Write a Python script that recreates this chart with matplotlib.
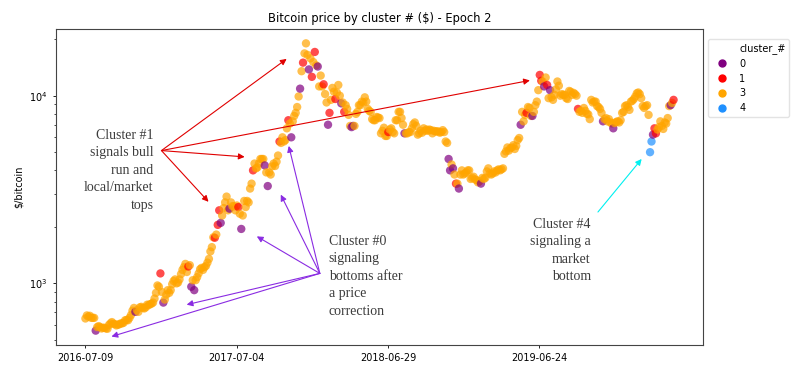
import numpy as np
import pandas as pd
import matplotlib
matplotlib.use("Agg")
import matplotlib.pyplot as plt
from matplotlib.lines import Line2D

# prices, one every 3.5 days starting 2016-07-09
price_2016 = [650, 675, 665, 672, 655, 655, 655, 560, 585, 592, 585, 575, 580,
              580, 575, 573, 600, 612, 622, 610, 607, 597, 602, 605, 612, 612,
              617, 636, 638, 636, 655, 678, 715, 740, 705, 720, 705, 745, 750,
              740, 735, 745, 770, 765, 775, 780, 790, 830, 890, 975, 960, 1130]
price_2017 = [900, 790, 820, 870, 920, 890, 920, 990, 1030, 1050, 1000, 1010,
              1050, 1120, 1180, 1220, 1270, 1150, 1230, 1250, 960, 1040, 920,
              1040, 1080, 1130, 1190, 1210, 1180, 1220, 1240, 1290, 1350, 1480,
              1560, 1760, 1750, 1820, 2050, 2450, 2100, 2300, 2520, 2700, 2900,
              2450, 2500, 2700, 2580, 2570, 2450, 2600, 2550, 2350, 1950, 2300,
              2750, 2550, 2750, 2700, 3200, 3400, 4000, 4350, 4100, 4150, 4350,
              4600, 4600, 4600, 4250, 3900, 3300, 3900, 3800, 4200, 4350, 4220,
              4450, 4800, 5700, 5600, 6000, 5700, 5800, 6700, 7400, 7100, 6000,
              7300, 7800, 8100, 8700, 9900, 10900, 13500, 15000, 16800, 19000,
              16500, 13800, 15800, 12600, 15100]
price_2018 = [17100, 14500, 14300, 11200, 12800, 11200, 11500, 10200, 9200, 7000,
              8100, 9500, 11000, 10500, 9600, 10400, 11400, 10000, 9100, 9200,
              8200, 8900, 8500, 7900, 6900, 6800, 6900, 6900, 8000, 8200, 8900,
              8900, 9300, 9200, 9800, 9300, 8500, 8300, 8200, 7500, 7400, 7400,
              7700, 7650, 7600, 6300, 6500, 6750, 6100, 6100, 6400, 6600, 6700,
              6400, 6300, 7400, 7400, 8200, 8200, 7600, 7000, 6300, 6300, 6300,
              6400, 6400, 6700, 7050, 7200, 6900, 6200, 6300, 6500, 6350, 6700,
              6500, 6600, 6500, 6600, 6550, 6300, 6500, 6450, 6450, 6450, 6350,
              6400, 6550, 6400, 5700, 5600, 4600, 4000, 4300, 4100, 3800, 3400,
              3400, 3200, 3800, 4000, 3800, 3850, 3900]
price_2019 = [4000, 4000, 3600, 3650, 3700, 3580, 3550, 3450, 3500, 3400, 3650,
              3600, 3650, 3950, 4100, 3850, 3800, 3850, 3950, 3900, 4000, 4050,
              4000, 4050, 4100, 4900, 5050, 5300, 5100, 5250, 5300, 5450, 5200,
              5400, 5800, 5950, 7000, 8200, 7300, 7900, 8100, 8700, 8600, 7800,
              7800, 8200, 8900, 9300, 10700, 12900, 12000, 11900, 11200, 12500,
              11400, 9700, 10700, 9800, 9500, 10100, 10800, 11900, 11300, 10000,
              10200, 10100, 10100, 9700, 9600, 10600, 10500, 10100, 10350, 10200,
              10000, 8500, 8200, 8300, 8100, 8600, 8300, 8000, 7950, 7500, 9500,
              9200, 9300, 9300, 8800, 8700, 8500, 8100, 7300, 7500, 7600, 7300,
              7500, 7200, 7100, 6700, 7150, 7250, 7300, 7200]
price_2020 = [7400, 8100, 8200, 8800, 8900, 8700, 8400, 9300, 9400, 9600, 9900,
              10300, 10400, 10200, 9700, 8800, 8600, 8800, 8900, 7900, 5000,
              5700, 6200, 6700, 6300, 6600, 6800, 7300, 6900, 6650, 7200, 7100,
              7600, 8800, 8900, 9150, 9500]

# cluster label of each point above (one character per point)
cluster_2016 = "3333333033 3333333333 3333333333 3333033333 3333333333 31"
cluster_2017 = ("3033333333 3333333313 0303333333 3333331311 0333330333 "
                "3313033333 3313333333 0303333333 1333331303 3333031333 0313")
cluster_2018 = ("1303331330 1333133303 1333300333 3333333333 3333333333 "
                "1333333333 3033333333 3333333333 3333333333 3003031303 3333")
cluster_2019 = ("3333333330 3333333333 3333333333 3333330333 1333033331 "
                "1303130333 3333333333 3333313333 3333333333 3303333330 3333")
cluster_2020 = "3333333333 3333333333 4401133333 3333031"

cluster_ids = [0, 1, 3, 4]
cluster_colors = ["#800080", "#ff0000", "#ffa500", "#1e90ff"]
tick_labels = ["2016-07-09", "2017-07-04", "2018-06-29", "2019-06-24"]

price = price_2016 + price_2017 + price_2018 + price_2019 + price_2020
cluster_str = (cluster_2016 + cluster_2017 + cluster_2018 + cluster_2019
               + cluster_2020).replace(" ", "")
cluster = [int(c) for c in cluster_str]
n = min(len(price), len(cluster))
price, cluster = price[:n], cluster[:n]
dates = pd.date_range("2016-07-09", periods=n, freq="84h")
color_of = dict(zip(cluster_ids, cluster_colors))
colors = [color_of[c] for c in cluster]

fig = plt.figure(figsize=(8.07, 3.8), dpi=100)
ax = fig.add_axes([0.0694, 0.0921, 0.8017, 0.8316])

ax.scatter(dates, price, c=colors, s=36, alpha=0.7, linewidths=0)
ax.set_yscale("log")
ax.set_xticks(pd.to_datetime(tick_labels))
ax.set_xticklabels(tick_labels)
ax.tick_params(labelsize=7, length=2.5, width=0.6)
ax.tick_params(which="minor", length=1.5, width=0.5)
for sp in ax.spines.values():
    sp.set_color("#444444")
    sp.set_linewidth(0.8)
ax.set_ylabel(r"\$/bitcoin", fontsize=7)
ax.set_title("Bitcoin price by cluster # ($) - Epoch 2", fontsize=8.3, pad=5)

handles = [Line2D([], [], linestyle="", marker="")]
labels = ["cluster_#"]
for cid, col in zip(cluster_ids, cluster_colors):
    handles.append(Line2D([], [], linestyle="", marker="o", color=col, markersize=5))
    labels.append(str(cid))
ax.legend(handles, labels, loc="upper left", bbox_to_anchor=(1.0077, 0.968),
          borderaxespad=0, fontsize=7, edgecolor="#dddddd")

# annotations
def arrows(origin, targets, color):
    for t in targets:
        ax.annotate("", xy=(pd.Timestamp(t[0]), t[1]),
                    xytext=(pd.Timestamp(origin[0]), origin[1]),
                    arrowprops=dict(arrowstyle="-|>", color=color, lw=0.8,
                                    shrinkA=0, shrinkB=0, mutation_scale=9))

arrows(("2017-01-06", 5100),
       [("2017-10-31", 15700), ("2019-06-02", 12060), ("2017-07-23", 4720),
        ("2017-04-28", 2720)], "#e00000")
arrows(("2018-01-18", 1130),
       [("2017-11-05", 5400), ("2017-10-17", 2970), ("2017-08-21", 1780),
        ("2017-03-07", 770), ("2016-09-09", 521)], "#8a2be2")
arrows(("2019-11-11", 2400), [("2020-02-23", 4600)], "#00f0f0")

note = dict(fontsize=10, family="Liberation Serif", color="#3c3c3c",
            va="center", linespacing=1.45)
ax.text(pd.Timestamp("2016-12-18"), 4010,
        "Cluster #1\nsignals bull\nrun and\nlocal/market\ntops", ha="right", **note)
ax.text(pd.Timestamp("2018-02-08"), 1092,
        "Cluster #0\nsignaling\nbottoms after\na price\ncorrection", ha="left", **note)
ax.text(pd.Timestamp("2019-10-25"), 1493,
        "Cluster #4\nsignaling a\nmarket\nbottom", ha="right", **note)

fig.savefig("out.png", dpi=100)
